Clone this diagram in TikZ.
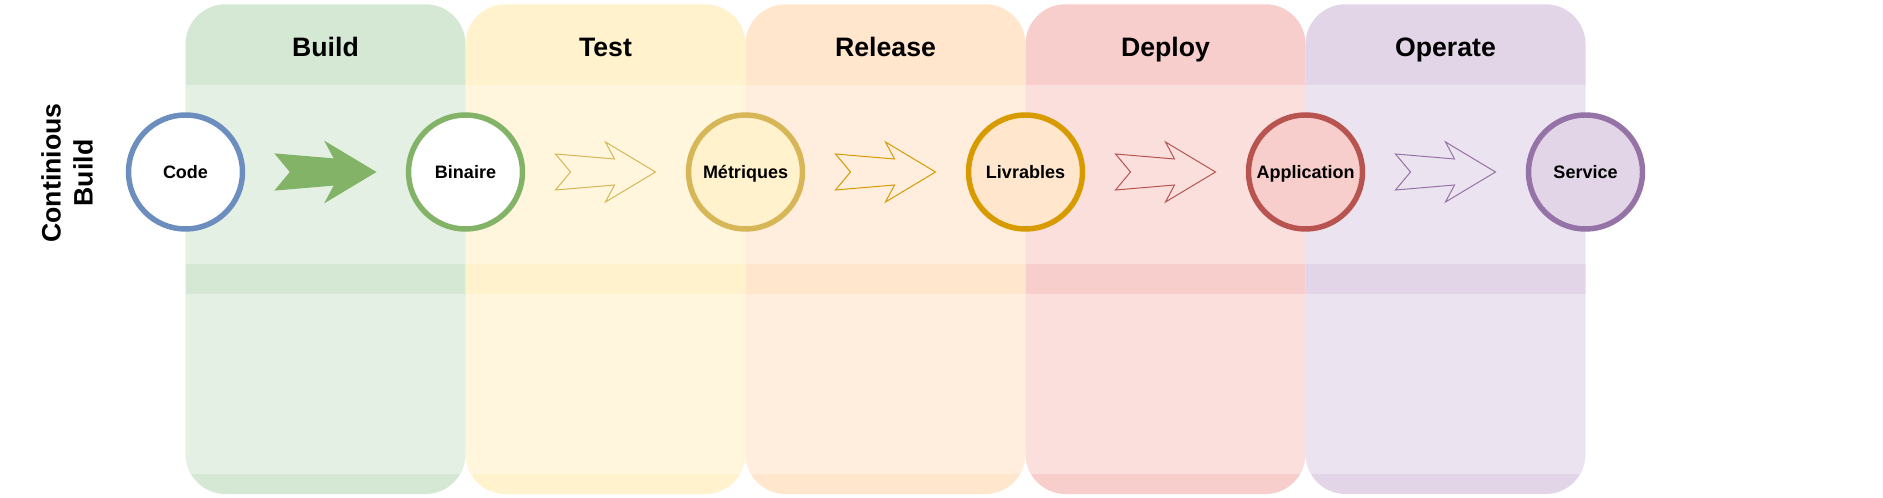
\documentclass[tikz,border=0pt]{standalone}
\usepackage{fontspec}
\setmainfont{Liberation Sans}
\usetikzlibrary{positioning,calc}

\definecolor{bluestroke}{HTML}{6C8EBF}
\definecolor{greenfill}{HTML}{D5E8D4}
\definecolor{greenstroke}{HTML}{82B366}
\definecolor{yellowfill}{HTML}{FFF2CC}
\definecolor{yellowstroke}{HTML}{D6B656}
\definecolor{orangefill}{HTML}{FFE6CC}
\definecolor{orangestroke}{HTML}{D79B00}
\definecolor{redfill}{HTML}{F8CECC}
\definecolor{redstroke}{HTML}{B85450}
\definecolor{purplefill}{HTML}{E1D5E7}
\definecolor{purplestroke}{HTML}{9673A6}

\tikzset{
	flow/.pic={
		\path[pic actions] (-50,-18) -- (9,-13) -- (0,-30) -- (50,0) -- (0,30) -- (9,13) -- (-50,18) -- (-35,0) -- cycle;
	}
}

\begin{document}
\begin{tikzpicture}[%
	x=0.75pt, y=-0.75pt,
	node distance=210pt,
	lane/.style={minimum width=210pt, minimum height=367.3pt, inner sep=0pt, rounded corners=30pt,
		path picture={
			\fill[white,opacity=.35,sharp corners] ($(path picture bounding box.north west)+(0,80.4)$) rectangle ($(path picture bounding box.north east)+(0,259.7)$);
			\fill[white,opacity=.35,sharp corners] ($(path picture bounding box.north west)+(0,290.2)$) rectangle ($(path picture bounding box.north east)+(0,469.7)$);
		}},
	title/.style={font=\fontsize{20}{24}\selectfont\bfseries, inner sep=0pt, text height=14.3pt, text depth=0pt},
	stage/.style={circle, line width=4.1pt, minimum size=85.5pt, inner sep=0pt, text height=9.7pt, text depth=0pt, font=\fontsize{13.5}{16}\selectfont\bfseries},
	flowfull/.style={draw=#1, fill=#1, line width=0.75pt},
	flowline/.style={draw=#1, line width=0.75pt}
]
\useasboundingbox (0,0) rectangle (1883,498);

\node[lane, fill=greenfill]  (build)   at (325.5,249.15) {};
\node[lane, fill=yellowfill] (test)    [right of = build]   {};
\node[lane, fill=orangefill] (release) [right of = test]    {};
\node[lane, fill=redfill]    (deploy)  [right of = release] {};
\node[lane, fill=purplefill] (operate) [right of = deploy]  {};

\node[title] (tbuild)   at ($(build.north)+(0,42.8)$)   {Build};
\node[title] (ttest)    at ($(test.north)+(0,42.8)$)    {Test};
\node[title] (trelease) at ($(release.north)+(0,42.8)$) {Release};
\node[title] (tdeploy)  at ($(deploy.north)+(0,42.8)$)  {Deploy};
\node[title] (toperate) at ($(operate.north)+(0,42.8)$) {Operate};

\node[font=\fontsize{20}{24}\selectfont\bfseries, rotate=90, align=center] (side) at (67,173) {Continious\\Build};

\node[stage, draw=bluestroke, fill=white]         (code)        at (185.5,172) {Code};
\node[stage, draw=greenstroke, fill=white]        (binaire)     [right of = code]        {Binaire};
\node[stage, draw=yellowstroke, fill=yellowfill]  (metriques)   [right of = binaire]     {Métriques};
\node[stage, draw=orangestroke, fill=orangefill]  (livrables)   [right of = metriques]   {Livrables};
\node[stage, draw=redstroke, fill=redfill]        (application) [right of = livrables]   {Application};
\node[stage, draw=purplestroke, fill=purplefill]  (service)     [right of = application] {Service};

\pic[flowfull=greenstroke]  at ($(code)!.5!(binaire)$)          {flow};
\pic[flowline=yellowstroke] at ($(binaire)!.5!(metriques)$)     {flow};
\pic[flowline=orangestroke] at ($(metriques)!.5!(livrables)$)   {flow};
\pic[flowline=redstroke]    at ($(livrables)!.5!(application)$) {flow};
\pic[flowline=purplestroke] at ($(application)!.5!(service)$)   {flow};

\end{tikzpicture}
\end{document}
